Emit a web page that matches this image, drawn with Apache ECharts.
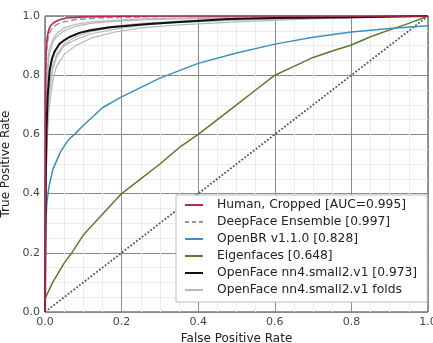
<!DOCTYPE html>
<html><head><meta charset="utf-8">
<script src="https://cdn.jsdelivr.net/npm/echarts@6/dist/echarts.min.js"></script>
<style>html,body{margin:0;padding:0;background:#fff}#c{width:433px;height:343px}</style>
</head><body><div id="c"></div>
<script>
const tickLabels = ['0.0','0.2','0.4','0.6','0.8','1.0'];
const legendNames = ['Human, Cropped [AUC=0.995]','DeepFace Ensemble [0.997]','OpenBR v1.1.0 [0.828]','Eigenfaces [0.648]','OpenFace nn4.small2.v1 [0.973]','OpenFace nn4.small2.v1 folds'];

const humanFpr = [0, 0.001, 0.003, 0.006, 0.01, 0.015, 0.025, 0.04, 0.056, 0.1, 0.2, 0.35, 1.0];
const humanTpr = [0, 0.75, 0.88, 0.93, 0.955, 0.968, 0.98, 0.988, 0.993, 0.997, 0.999, 1.0, 1.0];

const deepFpr = [0, 0.002, 0.005, 0.01, 0.02, 0.04, 0.08, 0.15, 0.3, 1.0];
const deepTpr = [0, 0.8, 0.9, 0.94, 0.962, 0.978, 0.988, 0.994, 0.998, 1.0];

const openbrFpr = [0, 0.002, 0.005, 0.01, 0.02, 0.04, 0.06, 0.077, 0.1, 0.15, 0.2, 0.3, 0.4, 0.5, 0.6, 0.7, 0.8, 0.9, 1.0];
const openbrTpr = [0, 0.3, 0.37, 0.42, 0.48, 0.54, 0.58, 0.6, 0.63, 0.69, 0.727, 0.79, 0.84, 0.875, 0.905, 0.928, 0.946, 0.958, 0.967];

const eigenFpr = [0, 0.0, 0.02, 0.05, 0.07, 0.1, 0.15, 0.2, 0.25, 0.3, 0.35, 0.4, 0.45, 0.5, 0.55, 0.6, 0.65, 0.7, 0.75, 0.8, 0.85, 0.9, 0.95, 1.0];
const eigenTpr = [0, 0.045, 0.1, 0.165, 0.2, 0.26, 0.33, 0.4, 0.45, 0.5, 0.555, 0.6, 0.65, 0.7, 0.75, 0.8, 0.83, 0.86, 0.882, 0.902, 0.93, 0.953, 0.975, 1.0];

const openfaceFpr = [0, 0.002, 0.004, 0.007, 0.012, 0.018, 0.025, 0.038, 0.05, 0.064, 0.09, 0.116, 0.17, 0.2, 0.27, 0.35, 0.48, 0.6, 0.8, 1.0];
const openfaceTpr = [0, 0.45, 0.62, 0.73, 0.815, 0.855, 0.88, 0.906, 0.918, 0.929, 0.943, 0.951, 0.962, 0.965, 0.973, 0.98, 0.99, 0.993, 0.996, 1.0];

const foldFpr = [0, 0.002, 0.005, 0.01, 0.02, 0.03, 0.05, 0.08, 0.12, 0.18, 0.25, 0.35, 0.5, 0.7, 1.0];
const fold1Tpr = [0, 0.55, 0.75, 0.86, 0.91, 0.93, 0.95, 0.965, 0.975, 0.982, 0.987, 0.99, 0.993, 0.996, 1.0];
const fold2Tpr = [0, 0.4, 0.55, 0.68, 0.78, 0.83, 0.87, 0.9, 0.925, 0.945, 0.96, 0.97, 0.98, 0.99, 1.0];
const fold3Tpr = [0, 0.5, 0.68, 0.8, 0.86, 0.89, 0.92, 0.94, 0.955, 0.965, 0.975, 0.983, 0.99, 0.995, 1.0];
const fold4Tpr = [0, 0.35, 0.6, 0.72, 0.82, 0.86, 0.9, 0.92, 0.94, 0.955, 0.968, 0.978, 0.986, 0.993, 1.0];
const fold5Tpr = [0, 0.6, 0.8, 0.88, 0.92, 0.94, 0.96, 0.972, 0.98, 0.985, 0.99, 0.993, 0.996, 0.998, 1.0];
const fold6Tpr = [0, 0.45, 0.62, 0.75, 0.83, 0.87, 0.905, 0.93, 0.948, 0.962, 0.972, 0.98, 0.988, 0.994, 1.0];
const chanceFpr = [0, 1];
const chanceTpr = [0, 1];

const zip = (a, b) => a.map((v, i) => [v, b[i]]);
const FONT = 'DejaVu Sans';
const SOLID_ICON = 'path://M0,0h18v2h-18z';
const DASH_ICON = 'path://M0,0h4v2h-4z M7,0h4v2h-4z M14,0h4v2h-4z';

function line(name, fpr, tpr, color, width, type, z) {
  return {
    name, type: 'line', data: zip(fpr, tpr), symbol: 'none', showSymbol: false,
    lineStyle: { color, width, type: type || 'solid' }, itemStyle: { color },
    z: z || 2, silent: true, animation: false, clip: true
  };
}

const folds = [fold1Tpr, fold2Tpr, fold3Tpr, fold4Tpr, fold5Tpr, fold6Tpr]
  .map(t => line(legendNames[5], foldFpr, t, '#b8b8b8', 1.2, 'solid', 2));

const axisCommon = {
  type: 'value', min: 0, max: 1, interval: 0.2,
  axisLine: { show: false }, axisTick: { show: false },
  minorTick: { show: false, splitNumber: 4 },
  minorSplitLine: { show: true, lineStyle: { color: '#ececec', width: 1 } },
  splitLine: { show: true, lineStyle: { color: '#8a8a8a', width: 1 } },
  axisLabel: { color: '#444', fontFamily: FONT, fontSize: 11, formatter: v => tickLabels[Math.round(v / 0.2)] },
  nameLocation: 'middle',
  nameTextStyle: { color: '#222', fontFamily: FONT, fontSize: 12 }
};

const legendIcons = [SOLID_ICON, DASH_ICON, SOLID_ICON, SOLID_ICON, SOLID_ICON, SOLID_ICON];

const chart = echarts.init(document.getElementById('c'), null, { renderer: 'canvas' });
chart.setOption({
  animation: false,
  backgroundColor: '#fff',
  grid: { left: 45, right: 5, top: 16, bottom: 31, outerBoundsMode: 'none', containLabel: false, show: true, borderColor: '#333', borderWidth: 1, backgroundColor: 'transparent' },
  xAxis: Object.assign({}, axisCommon, { name: 'False Positive Rate', nameGap: 16, axisLabel: Object.assign({}, axisCommon.axisLabel, { margin: 5 }) }),
  yAxis: Object.assign({}, axisCommon, { name: 'True Positive Rate', nameGap: 25, axisLabel: Object.assign({}, axisCommon.axisLabel, { margin: 5 }) }),
  legend: {
    data: legendNames.map((n, i) => ({ name: n, icon: legendIcons[i] })),
    orient: 'vertical', left: 176, top: 195,
    backgroundColor: '#fff', borderColor: '#bbb', borderWidth: 1, borderRadius: 0,
    padding: [4, 10, 6, 9], itemGap: 5, itemWidth: 18, itemHeight: 2,
    textStyle: { color: '#222', fontFamily: FONT, fontSize: 12.3, padding: [0, 0, 0, 9] },
    selectedMode: false, z: 10
  },
  series: [
    ...folds,
    line('chance', chanceFpr, chanceTpr, '#555', 1.8, 'dotted', 3),
    line(legendNames[3], eigenFpr, eigenTpr, '#5a7a2c', 1.5, 'solid', 4),
    line(legendNames[2], openbrFpr, openbrTpr, '#3a8fc2', 1.5, 'solid', 4),
    line(legendNames[1], deepFpr, deepTpr, '#8a9a9a', 1.5, 'dashed', 4),
    line(legendNames[4], openfaceFpr, openfaceTpr, '#111', 2, 'solid', 5),
    line(legendNames[0], humanFpr, humanTpr, '#c0244e', 1.6, 'solid', 6)
  ]
});
</script>
</body></html>
